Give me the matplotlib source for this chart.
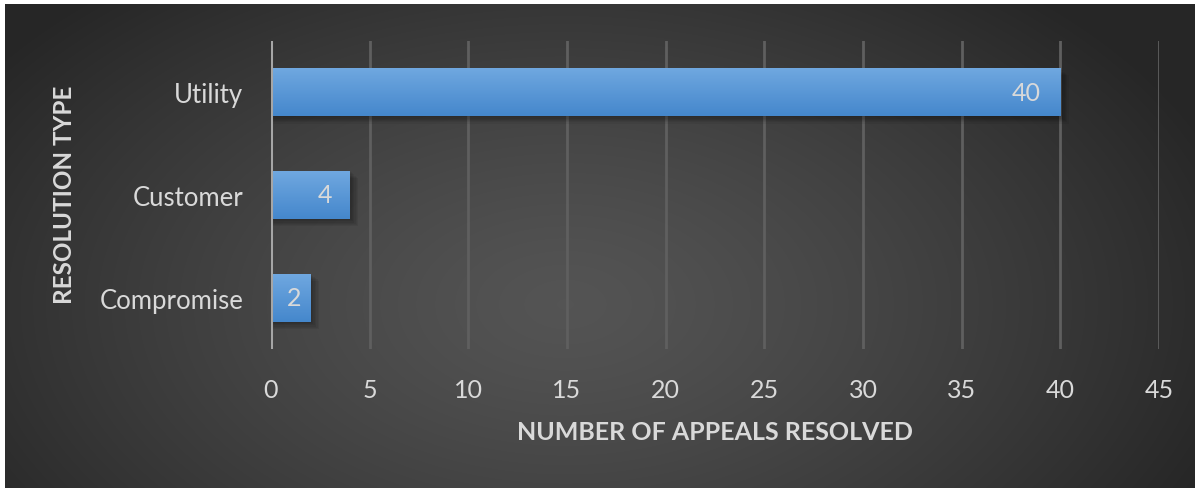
import numpy as np
import matplotlib
matplotlib.use("Agg")
import matplotlib.pyplot as plt
from matplotlib.patches import Rectangle

categories = ["Compromise", "Customer", "Utility"]
values = [2, 4, 40]
xticks = [0, 5, 10, 15, 20, 25, 30, 35, 40, 45]
xlabel = "NUMBER OF APPEALS RESOLVED"
ylabel = "RESOLUTION TYPE"

W, H = 1195, 489
fig = plt.figure(figsize=(W / 100, H / 100), dpi=100)
fig.patch.set_facecolor("white")

# background radial gradient panel
bg = fig.add_axes([5 / W, 0, 1 - 5 / W, 1 - 5 / H])
bg.set_axis_off()
yy, xx = np.mgrid[0:484, 0:1190]
cx, cy = 560, 300
r = np.sqrt(((xx - cx) / 700.0) ** 2 + ((yy - cy) / 420.0) ** 2)
r = np.clip(r, 0, 1)
lum = 0.33 - 0.18 * r ** 1.3
img = np.dstack([lum, lum, lum])
bg.imshow(img, aspect="auto", extent=[0, 1, 0, 1], origin="upper")
bg.set_xlim(0, 1)
bg.set_ylim(0, 1)

ax = fig.add_axes([271 / W, 1 - 350 / H, (1159 - 271) / W, (350 - 42) / H])
ax.set_facecolor("none")
ax.set_xlim(0, 45)
ax.set_ylim(-0.5, 2.5)
ypos = np.arange(len(categories))
bh = 0.47

bars = ax.barh(ypos, values, height=bh, color="#5b9bd5", zorder=3)
grad = np.linspace(0, 1, 100).reshape(-1, 1)
top = np.array([0.44, 0.66, 0.88])
bot = np.array([0.27, 0.53, 0.80])
gimg = bot + (top - bot) * grad
gimg = gimg.reshape(100, 1, 3)
for b in bars:
    x0, y0 = b.get_x(), b.get_y()
    w, h = b.get_width(), b.get_height()
    # soft shadow
    for k in range(6):
        ax.add_patch(Rectangle((x0, y0 - 0.01 - 0.012 * k), w + 0.08 + 0.07 * k, h,
                               facecolor="black", alpha=0.06, lw=0, zorder=2))
    im = ax.imshow(gimg, extent=[x0, x0 + w, y0, y0 + h], origin="lower",
                   aspect="auto", zorder=3.5, interpolation="bilinear")
    im.set_clip_path(b)
    off = min(1.0, w * 0.23)
    ax.text(x0 + w - off, y0 + h / 2, f"{int(w)}", ha="right", va="center",
            color="#d9d9d9", fontsize=18, family="Lato", zorder=5)

ax.set_xlim(0, 45)
ax.set_ylim(-0.5, 2.5)
ax.set_xticks(xticks)
ax.set_xticklabels([str(t) for t in xticks], color="#d9d9d9", fontsize=18, family="Lato")
ax.set_yticks(ypos)
ax.set_yticklabels(categories, color="#d9d9d9", fontsize=18.5, family="Lato")
ax.tick_params(axis="both", length=0)
ax.tick_params(axis="x", pad=21)
ax.tick_params(axis="y", pad=20)
for t in xticks[1:]:
    ax.axvline(t, color="#5f5f5f", lw=2, zorder=1)
ax.axvline(0, color="#a6a6a6", lw=2.2, zorder=4)
for s in ax.spines.values():
    s.set_visible(False)

fig.text(715 / W, 1 - 433 / H, xlabel, ha="center", va="center", color="#d9d9d9",
         fontsize=18, fontweight="bold", family="Lato")
fig.text(65 / W, 1 - 195 / H, ylabel, ha="center", va="center", rotation=90,
         color="#d9d9d9", fontsize=17.5, fontweight="bold", family="Lato")

fig.savefig("out.png", dpi=100, facecolor=fig.get_facecolor())
